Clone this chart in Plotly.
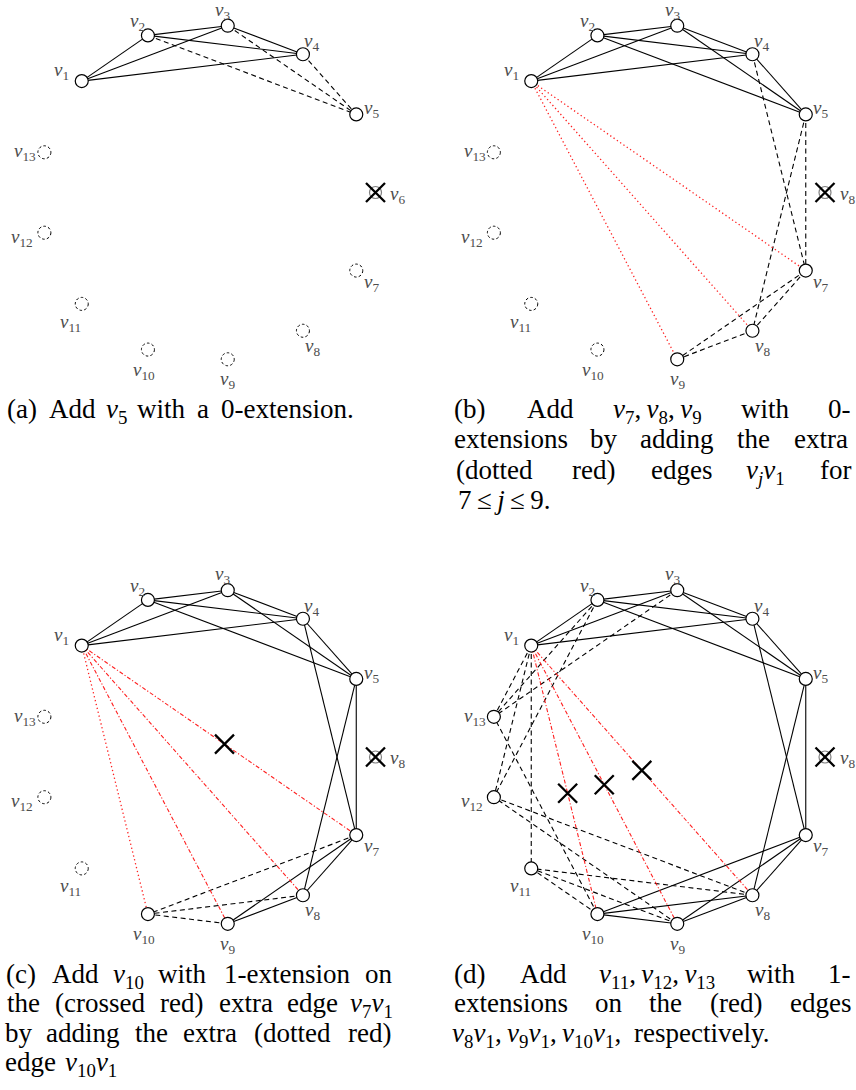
import math
import re
import plotly.graph_objects as go

W, H = 856, 1090

# ---------------- graph data ----------------
vertices = list(range(1, 14))
k4_edges = [(1, 2), (1, 3), (1, 4), (2, 3), (2, 4), (3, 4)]
v5_edges = [(2, 5), (3, 5), (4, 5)]
v7_v9_edges = [(4, 7), (5, 7), (5, 8), (7, 8), (7, 9), (8, 9)]
v10_edges = [(7, 10), (8, 10), (9, 10)]
v11_v13_edges = [(1, 11), (8, 11), (9, 11), (10, 11),
                 (1, 12), (2, 12), (8, 12), (9, 12),
                 (1, 13), (2, 13), (3, 13), (10, 13)]
extra_edges_b = [(1, 7), (1, 8), (1, 9)]
extra_edges_c = [(1, 7), (1, 8), (1, 9)]
extra_edge_v10 = [(1, 10)]
extra_edges_d = [(1, 8), (1, 9), (1, 10)]
crossed_edges_c = [(1, 7)]
crossed_edges_d = [(1, 8), (1, 9), (1, 10)]

removed_vertex = 6
removed_label = {"a": 6, "b": 8, "c": 8, "d": 8}

placed_a = [1, 2, 3, 4, 5]
placed_b = [1, 2, 3, 4, 5, 7, 8, 9]
placed_c = [1, 2, 3, 4, 5, 7, 8, 9, 10]
placed_d = [1, 2, 3, 4, 5, 7, 8, 9, 10, 11, 12, 13]

panels = {
    "a": dict(solid=k4_edges, dashed=v5_edges, red_dot=[], red_dashdot=[],
              crossed=[], placed=placed_a),
    "b": dict(solid=k4_edges + v5_edges, dashed=v7_v9_edges, red_dot=extra_edges_b,
              red_dashdot=[], crossed=[], placed=placed_b),
    "c": dict(solid=k4_edges + v5_edges + v7_v9_edges, dashed=v10_edges,
              red_dot=extra_edge_v10, red_dashdot=extra_edges_c,
              crossed=crossed_edges_c, placed=placed_c),
    "d": dict(solid=k4_edges + v5_edges + v7_v9_edges + v10_edges, dashed=v11_v13_edges,
              red_dot=[], red_dashdot=extra_edges_d,
              crossed=crossed_edges_d, placed=placed_d),
}

# caption text: words of each printed line, and whether the line is justified
caption_a = [(["(a)", "Add", "<i>v</i><sub>5</sub>", "with", "a", "0-extension."], False)]
caption_b = [(["(b)", "Add", "<i>v</i><sub>7</sub>,\u2009<i>v</i><sub>8</sub>,\u2009<i>v</i><sub>9</sub>",
               "with", "0-"], True),
             (["extensions", "by", "adding", "the", "extra"], True),
             (["(dotted", "red)", "edges", "<i>v<sub>j</sub>v</i><sub>1</sub>", "for"], True),
             (["7\u2009≤\u2009<i>j</i>\u2009≤\u20099."], False)]
caption_c = [(["(c)", "Add", "<i>v</i><sub>10</sub>", "with", "1-extension", "on"], True),
             (["the", "(crossed", "red)", "extra", "edge",
               "<i>v</i><sub>7</sub><i>v</i><sub>1</sub>"], True),
             (["by", "adding", "the", "extra", "(dotted", "red)"], True),
             (["edge", "<i>v</i><sub>10</sub><i>v</i><sub>1</sub>"], False)]
caption_d = [(["(d)", "Add",
               "<i>v</i><sub>11</sub>,\u2009<i>v</i><sub>12</sub>,\u2009<i>v</i><sub>13</sub>",
               "with", "1-"], True),
             (["extensions", "on", "the", "(red)", "edges"], True),
             (["<i>v</i><sub>8</sub><i>v</i><sub>1</sub>,\u2009<i>v</i><sub>9</sub><i>v</i><sub>1</sub>,"
               "\u2009<i>v</i><sub>10</sub><i>v</i><sub>1</sub>,", "respectively."], False)]

# ---------------- layout / style ----------------
R_PX = 168.0
centers = {"a": (207.5, 192.5), "b": (657.0, 192.5), "c": (207.5, 757.0), "d": (657.0, 757.0)}
boxes = {"a": (0, 428, 0, 390), "b": (428, 856, 0, 390),
         "c": (0, 428, 560, 950), "d": (428, 856, 560, 950)}
axis_ids = {"a": "", "b": "2", "c": "3", "d": "4"}

# label offsets (screen px, +y down)
label_off = {1: (-20, -10), 2: (-10, -13), 3: (-5, -15), 4: (9, -12), 5: (15, -5),
             6: (22, 2), 7: (15, 12), 8: (10, 16), 9: (0, 21), 10: (-4, 21),
             11: (-11, 19), 12: (-22, 5), 13: (-19, 0)}
cross_t = {(1, 7): 0.52, (1, 8): 0.5, (1, 9): 0.5, (1, 10): 0.55}

LABEL_FONT = dict(family="Liberation Serif", size=19, color="#4d4d4d")
CAP_SIZE = 27
CAP_FONT = dict(family="Liberation Serif", size=CAP_SIZE, color="black")
EM = 26.5  # caption em in px, used for word spacing

# caption geometry: (left, right) of each column and line centres
cols = {"a": (5, 393), "b": (452, 851), "c": (5, 393), "d": (452, 851)}
cap_y = {"a": [408], "b": [408, 438, 469, 499], "c": [973, 1002, 1032, 1061],
         "d": [973, 1002, 1032]}

# approximate roman / math-italic advance widths (em) for spacing the words
ROMAN = {'a': .5, 'b': .556, 'c': .444, 'd': .556, 'e': .444, 'f': .306, 'g': .5,
         'h': .556, 'i': .278, 'j': .306, 'k': .528, 'l': .278, 'm': .833, 'n': .556,
         'o': .5, 'p': .556, 'q': .528, 'r': .392, 's': .394, 't': .389, 'u': .556,
         'v': .528, 'w': .722, 'x': .528, 'y': .528, 'A': .75, '(': .389, ')': .389,
         ',': .278, '.': .278, '-': .333, ' ': .333, '\u2009': .17, '≤': .778}
ITALIC = {'v': .47, 'j': .412}
SPACE = .333


def em_width(html):
    w, ital, sub = 0.0, False, False
    for tok in re.findall(r"</?i>|</?sub>|.", html):
        if tok == "<i>":
            ital = True
        elif tok == "</i>":
            ital = False
        elif tok == "<sub>":
            sub = True
        elif tok == "</sub>":
            sub = False
        else:
            cw = ITALIC.get(tok, ROMAN.get(tok, .5)) if ital else ROMAN.get(tok, .5)
            w += cw * (0.68 if sub else 1.0)
    return w


def vpos(k):
    ang = (6 - k) * 2 * math.pi / 13
    return math.cos(ang), math.sin(ang)


fig = go.Figure()
layout_axes = {}
shapes = []
annotations = []

for name, p in panels.items():
    sid = axis_ids[name]
    xr, yr = "x" + sid, "y" + sid
    cx, cy = centers[name]
    bx0, bx1, by0, by1 = boxes[name]
    layout_axes["xaxis" + sid] = dict(domain=[bx0 / W, bx1 / W],
                                      range=[(bx0 - cx) / R_PX, (bx1 - cx) / R_PX],
                                      visible=False, fixedrange=True)
    layout_axes["yaxis" + sid] = dict(domain=[1 - by1 / H, 1 - by0 / H],
                                      range=[(cy - by1) / R_PX, (cy - by0) / R_PX],
                                      visible=False, fixedrange=True)

    def edge_trace(edges, color, dash, width):
        xs, ys = [], []
        for a, b in edges:
            xa, ya = vpos(a)
            xb, yb = vpos(b)
            xs += [xa, xb, None]
            ys += [ya, yb, None]
        return go.Scatter(x=xs, y=ys, mode="lines", xaxis=xr, yaxis=yr,
                          line=dict(color=color, width=width, dash=dash),
                          hoverinfo="skip", showlegend=False)

    if p["solid"]:
        fig.add_trace(edge_trace(p["solid"], "black", "solid", 1.1))
    if p["dashed"]:
        fig.add_trace(edge_trace(p["dashed"], "black", "5px,3.5px", 1.1))
    if p["red_dot"]:
        fig.add_trace(edge_trace(p["red_dot"], "#ff2020", "1.3px,2.7px", 1.3))
    if p["red_dashdot"]:
        fig.add_trace(edge_trace(p["red_dashdot"], "#ff2020", "4px,2px,1.2px,2px", 1.1))

    # placed vertices
    px_ = [vpos(k)[0] for k in p["placed"]]
    py_ = [vpos(k)[1] for k in p["placed"]]
    fig.add_trace(go.Scatter(x=px_, y=py_, mode="markers", xaxis=xr, yaxis=yr,
                             marker=dict(symbol="circle", size=13, color="white",
                                         line=dict(color="black", width=1.2)),
                             hoverinfo="skip", showlegend=False))

    # removed vertex: grey circle with a cross
    rx, ry = vpos(removed_vertex)
    fig.add_trace(go.Scatter(x=[rx], y=[ry], mode="markers", xaxis=xr, yaxis=yr,
                             marker=dict(symbol="circle", size=12, color="white",
                                         line=dict(color="#808080", width=1.2)),
                             hoverinfo="skip", showlegend=False))

    # crosses on removed edges and on the removed vertex
    cxs, cys = [rx], [ry]
    for a, b in p["crossed"]:
        xa, ya = vpos(a)
        xb, yb = vpos(b)
        t = cross_t[(a, b)]
        cxs.append(xa + t * (xb - xa))
        cys.append(ya + t * (yb - ya))
    fig.add_trace(go.Scatter(x=cxs, y=cys, mode="markers", xaxis=xr, yaxis=yr,
                             marker=dict(symbol="x-thin", size=19, color="black",
                                         line=dict(color="black", width=2.3)),
                             hoverinfo="skip", showlegend=False))

    # vertices still to be added: dashed circles
    for k in vertices:
        if k in p["placed"] or k == removed_vertex:
            continue
        x, y = vpos(k)
        shapes.append(dict(type="circle", xref=xr, yref=yr, xsizemode="pixel",
                           ysizemode="pixel", xanchor=x, yanchor=y,
                           x0=-6.5, x1=6.5, y0=-6.5, y1=6.5,
                           line=dict(color="black", width=1, dash="2.6px,2.2px"),
                           fillcolor="white"))

    # vertex labels
    for k in vertices:
        x, y = vpos(k)
        dx, dy = label_off[k]
        num = removed_label[name] if k == removed_vertex else k
        annotations.append(dict(x=x, y=y, xref=xr, yref=yr, xshift=dx, yshift=-dy,
                                text=f"<i>v</i><sub>{num}</sub>", showarrow=False,
                                xanchor="center", yanchor="middle", font=LABEL_FONT))


def add_caption(key, lines):
    left, right = cols[key]
    for i, (words, justify) in enumerate(lines):
        widths = [em_width(w) * EM for w in words]
        if justify and len(words) > 1:
            gap = (right - left - sum(widths)) / (len(words) - 1)
        else:
            gap = SPACE * EM
        top = 1 - (cap_y[key][i] - 0.56 * CAP_SIZE) / H
        x = left
        for w, wd in zip(words, widths):
            annotations.append(dict(x=(x + wd / 2) / W, y=top, xref="paper", yref="paper",
                                    text=w, showarrow=False, xanchor="center",
                                    yanchor="top", font=CAP_FONT, borderpad=0))
            x += wd + gap


add_caption("a", caption_a)
add_caption("b", caption_b)
add_caption("c", caption_c)
add_caption("d", caption_d)

fig.update_layout(width=W, height=H, margin=dict(l=0, r=0, t=0, b=0),
                  paper_bgcolor="white", plot_bgcolor="white",
                  shapes=shapes, annotations=annotations, **layout_axes)

fig.write_html("out.html", config={"displayModeBar": False})
